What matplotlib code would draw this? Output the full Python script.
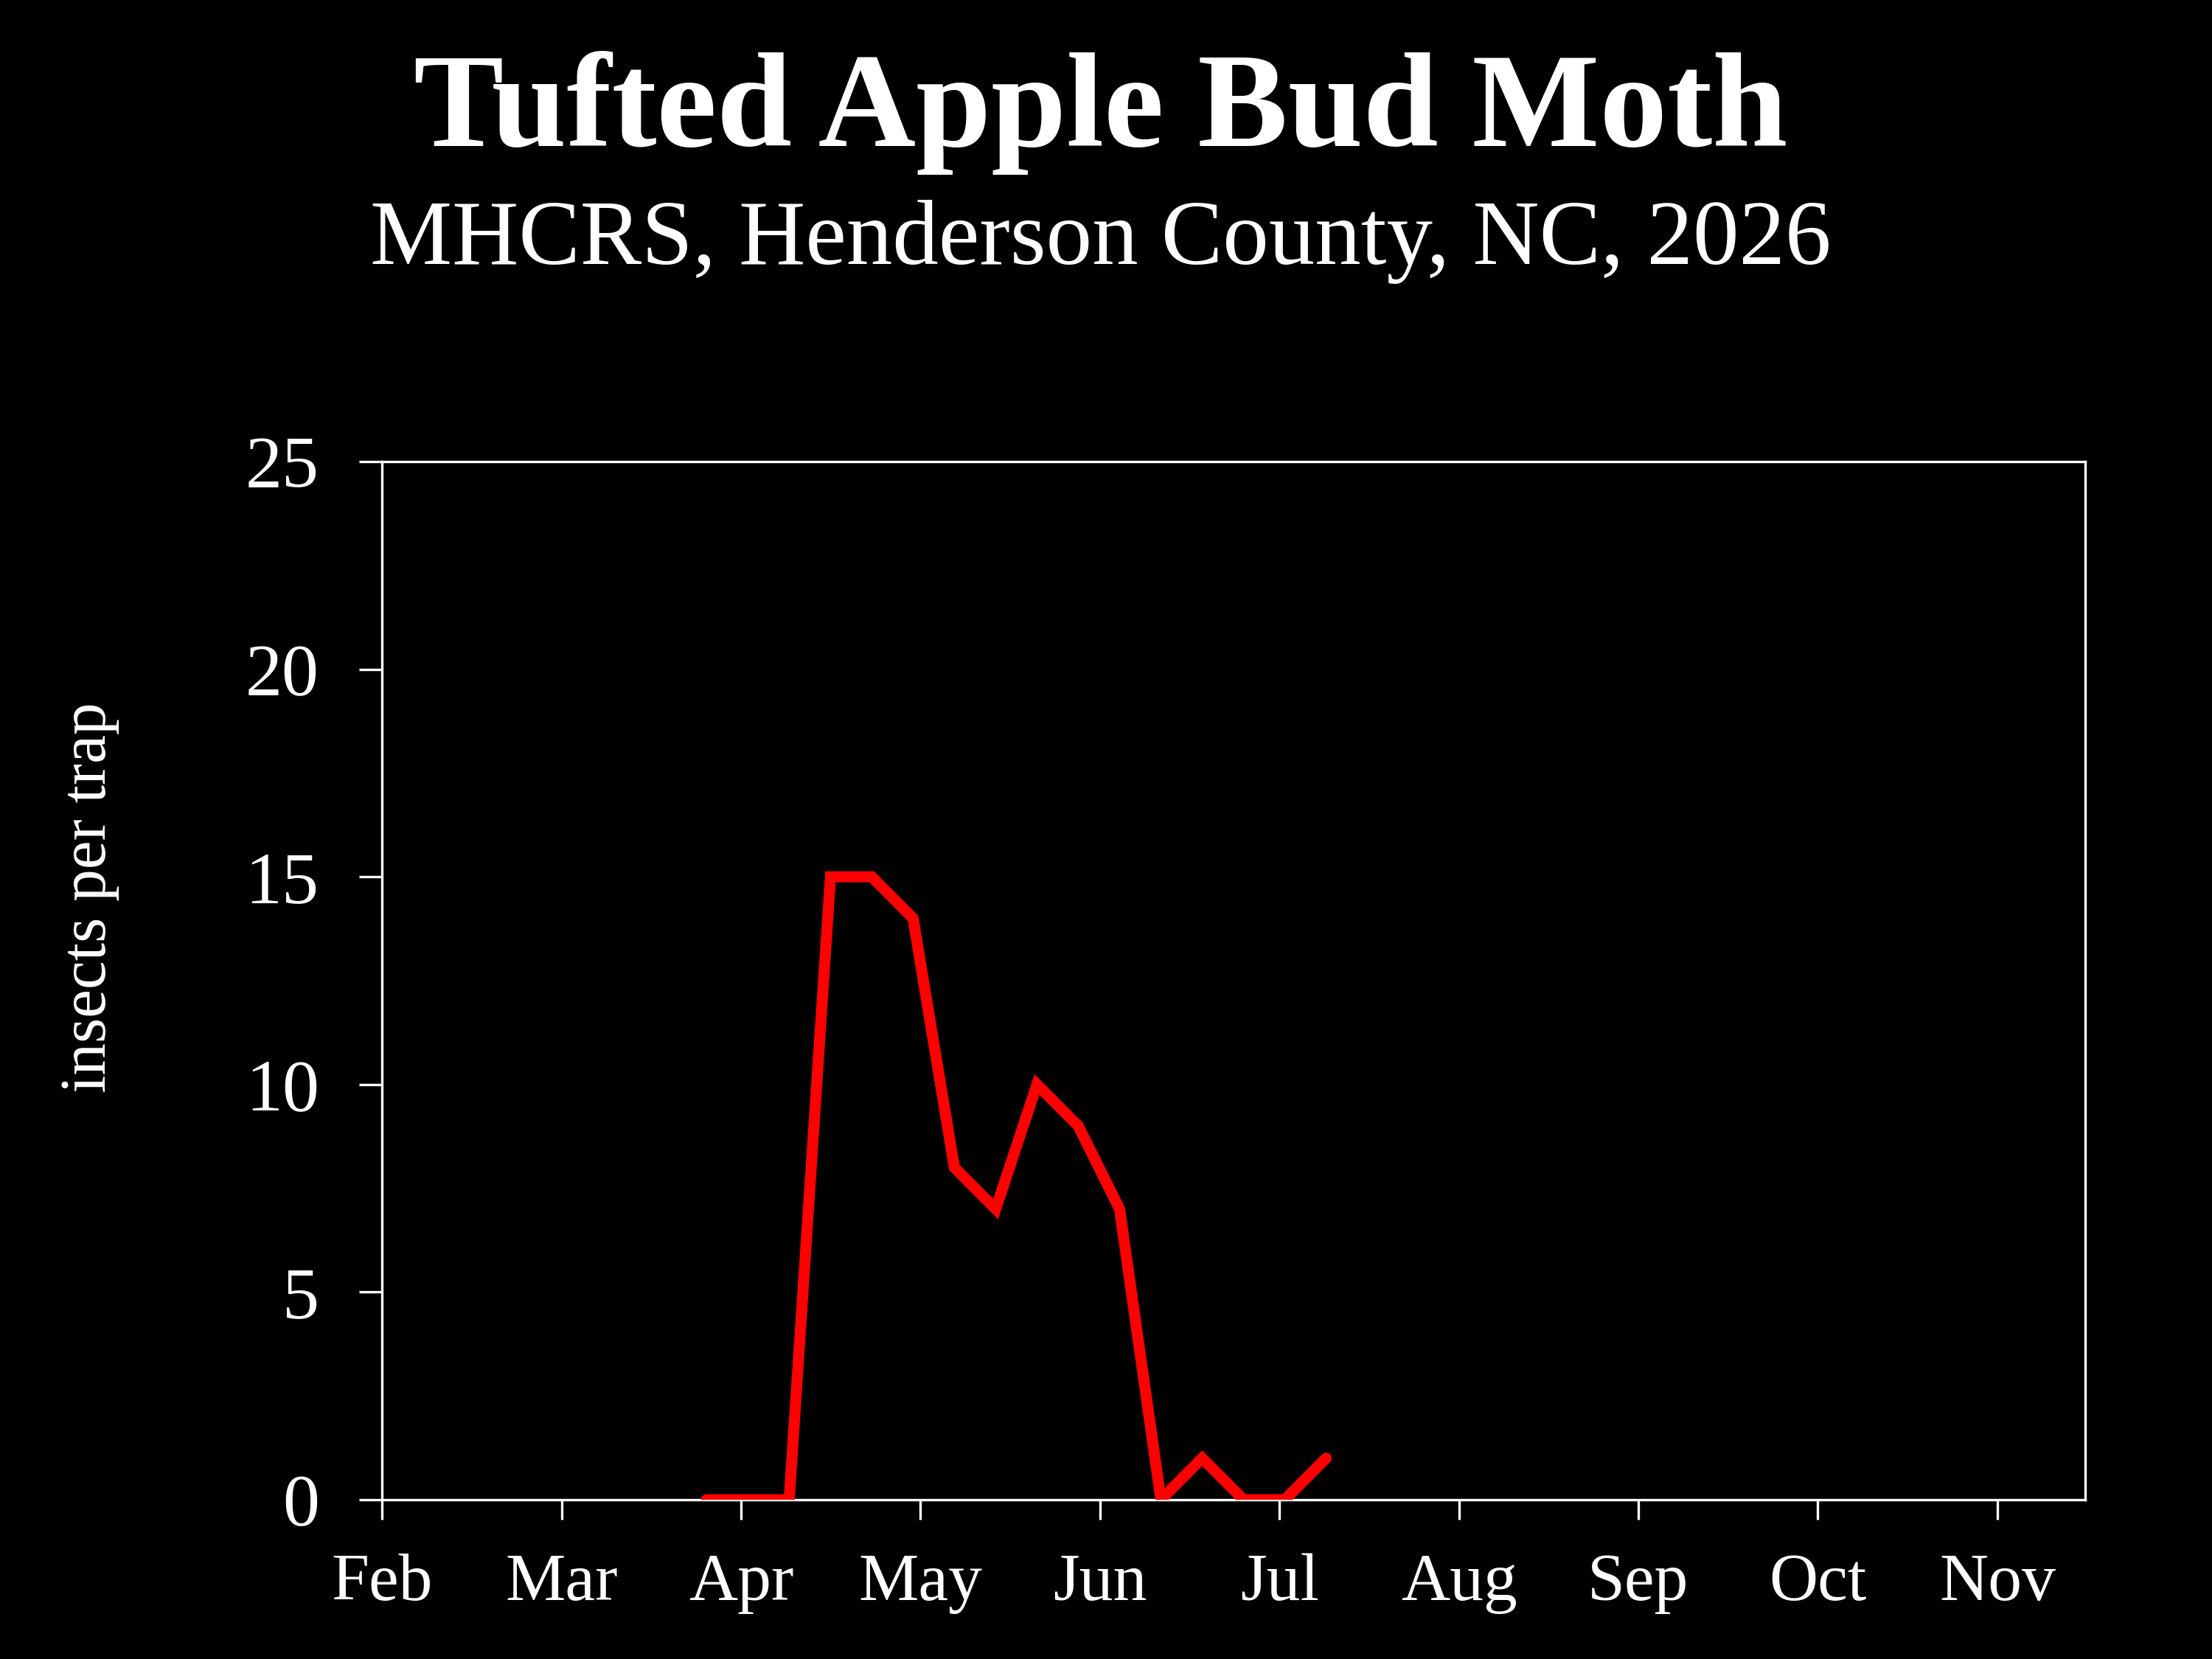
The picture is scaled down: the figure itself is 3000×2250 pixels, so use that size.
import datetime as dt
import matplotlib
matplotlib.use("Agg")
import matplotlib.pyplot as plt

# weekly trap counts
sample_dates = ["2026-03-28", "2026-04-04", "2026-04-11", "2026-04-18",
                "2026-04-25", "2026-05-02", "2026-05-09", "2026-05-16",
                "2026-05-23", "2026-05-30", "2026-06-06", "2026-06-13",
                "2026-06-20", "2026-06-27", "2026-07-04", "2026-07-11"]
counts = [0, 0, 0, 15, 15, 14, 8, 7, 10, 9, 7, 0, 1, 0, 0, 1]

month_labels = ["Feb", "Mar", "Apr", "May", "Jun", "Jul", "Aug", "Sep", "Oct", "Nov"]
y_ticks = [0, 5, 10, 15, 20, 25]

# x axis: days since Feb 1, one tick per average month
start = dt.date(2026, 2, 1)
month_len = 365 / 12
x = [(dt.date.fromisoformat(d) - start).days for d in sample_dates]
x_ticks = [i * month_len for i in range(len(month_labels))]

plt.rcParams['font.family'] = ['Liberation Serif', 'DejaVu Serif']

fig = plt.figure(figsize=(10, 7.5), dpi=300, facecolor='black')
ax = fig.add_axes([0.1727, 0.096, 0.77, 0.6258])
ax.set_facecolor('black')

ax.plot(x, counts, color='#ff0000', linewidth=3.6, solid_joinstyle='miter',
        solid_capstyle='round', zorder=3)

ax.set_xlim(0, 9.49 * month_len)
ax.set_ylim(0, 25)
ax.set_xticks(x_ticks)
ax.set_xticklabels(month_labels)
ax.set_yticks(y_ticks)

for s in ax.spines.values():
    s.set_color('white')
    s.set_linewidth(0.8)
ax.tick_params(axis='x', colors='white', labelsize=22, length=6.5, width=0.8, pad=11)
ax.tick_params(axis='y', colors='white', labelsize=24, length=7.5, width=0.8, pad=13)

fig.text(0.4975, 0.912, "Tufted Apple Bud Moth", color='white', fontsize=44,
         fontweight='bold', ha='center', va='baseline')
fig.text(0.4975, 0.841, "MHCRS, Henderson County, NC, 2026", color='white',
         fontsize=30, ha='center', va='baseline')
fig.text(0.0405, 0.459, "insects per trap", color='white', fontsize=21,
         rotation=90, ha='center', va='center')

fig.savefig("out.png", dpi=300, facecolor='black')
